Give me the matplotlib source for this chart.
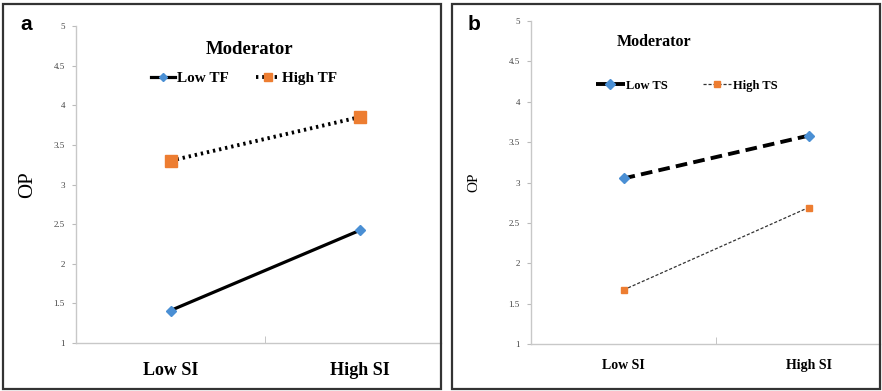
import matplotlib.pyplot as plt
from matplotlib.patches import Rectangle

# data
kategorije = ['Low SI', 'High SI']
low_tf = [1.41, 2.42]
high_tf = [3.30, 3.85]
low_ts = [3.05, 3.58]
high_ts = [1.67, 2.69]
y_ticks = [1, 1.5, 2, 2.5, 3, 3.5, 4, 4.5, 5]
y_tick_lbl = ['1', '1.5', '2', '2.5', '3', '3.5', '4', '4.5', '5']

W, H = 882, 391
plava = '#4A8FD4'
narancasta = '#ED7D31'
serif = 'Liberation Serif'

fig = plt.figure(figsize=(W/100, H/100), dpi=100)

def px(x0, y0, x1, y1):
    # pixel box (top-left origin) -> figure fractions
    return [x0/W, 1 - y1/H, (x1 - x0)/W, (y1 - y0)/H]

# okviri panela
fig.patches.append(Rectangle((3/W, 1 - 389/H), 438/W, 385/H, transform=fig.transFigure,
                             fill=False, edgecolor='#333333', lw=1.6))
fig.patches.append(Rectangle((452/W, 1 - 389/H), 428/W, 385/H, transform=fig.transFigure,
                             fill=False, edgecolor='#333333', lw=1.6))

def osi(ax, xmax, xfs, pad):
    ax.set_ylim(1, 5)
    ax.set_xlim(-0.5, xmax)
    ax.set_yticks(y_ticks)
    ax.set_yticklabels(y_tick_lbl, fontsize=6.5, family=serif, color='#444444')
    ax.set_xticks([0, 1])
    ax.set_xticklabels(kategorije, fontsize=xfs, family=serif, fontweight='bold')
    ax.tick_params(axis='x', which='major', length=0, pad=pad)
    ax.set_xticks([0.5], minor=True)
    ax.tick_params(axis='x', which='minor', length=5, color='#bbbbbb', direction='in')
    ax.tick_params(axis='y', length=3, color='#bbbbbb', pad=5)
    for s in ['top', 'right']:
        ax.spines[s].set_visible(False)
    for s in ['left', 'bottom']:
        ax.spines[s].set_color('#c8c8c8')
        ax.spines[s].set_linewidth(1.0)
    ax.patch.set_alpha(0)

# panel a
ax1 = fig.add_axes(px(76, 26, 441, 343))
ax1.plot([0, 1], low_tf, color='black', lw=2.3, marker='D', ms=5,
         mfc=plava, mec=plava, label='Low TF')
ax1.plot([0, 1], high_tf, color='black', lw=2.8, ls=(0, (0.6, 1.0)), marker='s', ms=8,
         mfc=narancasta, mec=narancasta, label='High TF')
osi(ax1, 1.431, 13, 14)
ax1.set_ylabel('OP', fontsize=15, family=serif, labelpad=12)
ax1.text(0.475, 0.925, 'Moderator', transform=ax1.transAxes, ha='center', va='center',
         fontsize=13.5, family=serif, fontweight='bold')
ax1.legend(loc='center', bbox_to_anchor=(0.46, 0.835), ncol=2, frameon=False,
           prop={'family': serif, 'weight': 'bold', 'size': 11},
           handlelength=1.6, handletextpad=0.1, columnspacing=1.8, markerscale=0.8)
fig.text(20/W, 1 - 25/H, 'a', fontsize=15, fontweight='bold', ha='left', va='center',
         family='Liberation Sans')

# panel b
ax2 = fig.add_axes(px(531, 21, 880, 344))
ax2.plot([0, 1], low_ts, color='black', lw=2.8, ls=(0, (3, 1.6)), marker='D', ms=5,
         mfc=plava, mec=plava, label='Low TS')
ax2.plot([0, 1], high_ts, color='#333333', lw=0.9, ls=(0, (2.5, 1.5)), marker='s', ms=4,
         mfc=narancasta, mec=narancasta, label='High TS')
osi(ax2, 1.386, 10, 11)
ax2.set_ylabel('OP', fontsize=11, family=serif, labelpad=20)
ax2.text(0.352, 0.935, 'Moderator', transform=ax2.transAxes, ha='center', va='center',
         fontsize=11.5, family=serif, fontweight='bold')
ax2.legend(loc='center', bbox_to_anchor=(0.446, 0.80), ncol=2, frameon=False,
           prop={'family': serif, 'weight': 'bold', 'size': 9},
           handlelength=2.3, handletextpad=0.1, columnspacing=2.8)
fig.text(468/W, 1 - 25/H, 'b', fontsize=15, fontweight='bold', ha='left', va='center',
         family='Liberation Sans')

fig.savefig('out.png', dpi=100)
